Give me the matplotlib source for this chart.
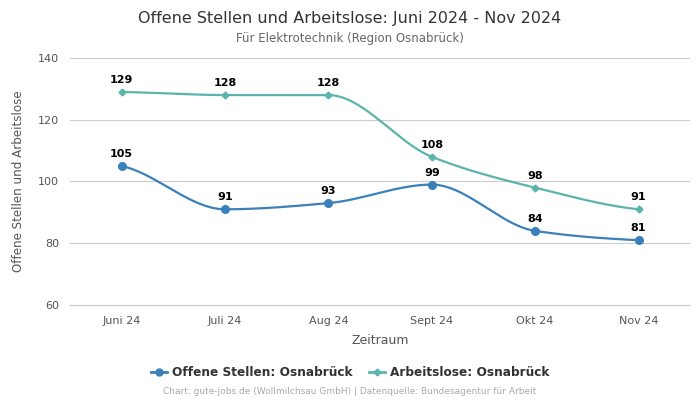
import numpy as np
import matplotlib
matplotlib.use("Agg")
import matplotlib.pyplot as plt

months = ["Juni 24", "Juli 24", "Aug 24", "Sept 24", "Okt 24", "Nov 24"]
offene = [105, 91, 93, 99, 84, 81]
arbeitslose = [129, 128, 128, 108, 98, 91]

c_off = "#3a80ba"
c_arb = "#5ab4ac"


def pchip(x, y, n=60):
    # monotone cubic (Fritsch-Carlson) for smooth lines
    x = np.asarray(x, float); y = np.asarray(y, float)
    h = np.diff(x); d = np.diff(y) / h
    m = np.zeros_like(y)
    for k in range(1, len(y) - 1):
        if d[k - 1] * d[k] > 0:
            w1 = 2 * h[k] + h[k - 1]; w2 = h[k] + 2 * h[k - 1]
            m[k] = (w1 + w2) / (w1 / d[k - 1] + w2 / d[k])
    m[0] = 0.5 * d[0]; m[-1] = 0.5 * d[-1]
    xs, ys = [], []
    for k in range(len(h)):
        t = np.linspace(0, 1, n)
        h00 = 2*t**3 - 3*t**2 + 1; h10 = t**3 - 2*t**2 + t
        h01 = -2*t**3 + 3*t**2; h11 = t**3 - t**2
        xs.append(x[k] + t * h[k])
        ys.append(h00*y[k] + h10*h[k]*m[k] + h01*y[k+1] + h11*h[k]*m[k+1])
    return np.concatenate(xs), np.concatenate(ys)


fig = plt.figure(figsize=(7, 4), dpi=100)
ax = fig.add_axes([0.1, 0.2375, 0.886, 0.6175])
x = np.arange(len(months))

for vals, col, mk, ms, lab in [(arbeitslose, c_arb, "D", 3.5, "Arbeitslose: Osnabrück"),
                               (offene, c_off, "o", 5.5, "Offene Stellen: Osnabrück")]:
    sx, sy = pchip(x, vals)
    ax.plot(sx, sy, color=col, lw=1.6, zorder=3)
    ax.plot(x, vals, linestyle="none", marker=mk, ms=ms, color=col, zorder=4)
    for xi, v in zip(x, vals):
        ax.annotate(str(v), (xi, v), xytext=(0, 5), textcoords="offset points",
                    ha="center", va="bottom", fontsize=8, fontweight="bold", color="black")

ax.set_xlim(-0.5, 5.5)
ax.set_ylim(60, 140)
ax.set_yticks([60, 80, 100, 120, 140])
ax.set_xticks(x)
ax.set_xticklabels(months)
ax.grid(axis="y", color="#cccccc", lw=0.8)
ax.set_axisbelow(True)
for s in ["top", "right", "left"]:
    ax.spines[s].set_visible(False)
ax.spines["bottom"].set_color("#cccccc")
ax.tick_params(axis="both", length=0, labelsize=8, colors="#555555", pad=8)
ax.set_xlabel("Zeitraum", fontsize=9, color="#555555", labelpad=6)
ax.set_ylabel("Offene Stellen und Arbeitslose", fontsize=8.6, color="#555555", labelpad=9)

fig.text(0.5, 0.955, "Offene Stellen und Arbeitslose: Juni 2024 - Nov 2024",
         ha="center", va="center", fontsize=11.5, color="#333333")
fig.text(0.5, 0.903, "Für Elektrotechnik (Region Osnabrück)",
         ha="center", va="center", fontsize=8.5, color="#666666")

h1 = plt.Line2D([], [], color=c_off, marker="o", ms=5, lw=2)
h2 = plt.Line2D([], [], color=c_arb, marker="D", ms=3.5, lw=2)
leg = fig.legend([h1, h2], ["Offene Stellen: Osnabrück", "Arbeitslose: Osnabrück"],
                 loc="center", bbox_to_anchor=(0.5, 0.068), ncol=2, frameon=False,
                 handlelength=1.3, handletextpad=0.4, columnspacing=1.4,
                 prop={"size": 8.7, "weight": "bold"})
for t in leg.get_texts():
    t.set_color("#333333")
fig.text(0.5, 0.02, "Chart: gute-jobs.de (Wollmilchsau GmbH) | Datenquelle: Bundesagentur für Arbeit",
         ha="center", va="center", fontsize=6.5, color="#aaaaaa")

fig.savefig("out.png", dpi=100)
